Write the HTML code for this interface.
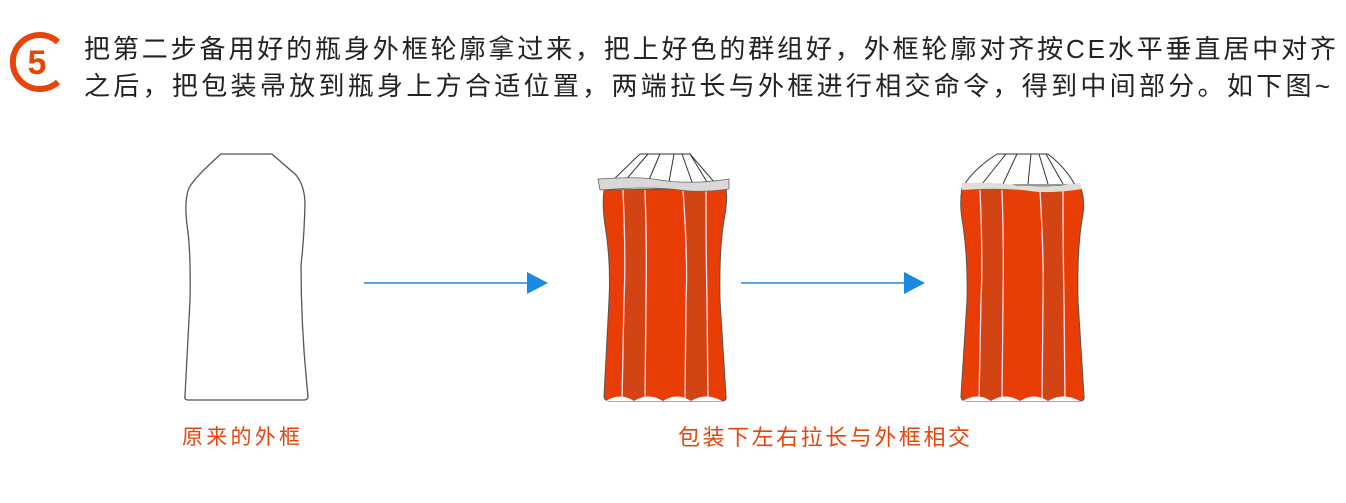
<!DOCTYPE html>
<html><head><meta charset="utf-8"><style>
html,body{margin:0;padding:0;background:#fff;width:1346px;height:503px;overflow:hidden}
svg{display:block}
text{font-family:"Liberation Sans","Noto Sans CJK SC",sans-serif}
</style></head><body>
<svg width="1346" height="503" viewBox="0 0 1346 503" xmlns="http://www.w3.org/2000/svg">
<!-- circled 5 -->
<path d="M58 42 A27 27 0 1 0 58 82" fill="none" stroke="#e8440a" stroke-width="6"/>
<text x="37" y="74" font-size="34" font-weight="bold" fill="#e8440a" text-anchor="middle">5</text>
<text x="84" y="58" font-size="26" fill="#222" textLength="1252" lengthAdjust="spacing">把第二步备用好的瓶身外框轮廓拿过来，把上好色的群组好，外框轮廓对齐按CE水平垂直居中对齐</text>
<text x="84" y="95" font-size="26" fill="#222" textLength="1246" lengthAdjust="spacing">之后，把包装帚放到瓶身上方合适位置，两端拉长与外框进行相交命令，得到中间部分。如下图~</text>

<!-- bottle 1 -->
<path d="M221 154 L272 154 L296 175 Q305 186 305 205 Q304 240 301 265 Q301 330 308 396 Q308 400 304 400 L188 400 Q184 400 185 396 L190 300 Q191 250 187 225 Q184 200 189 188 Q194 178 221 154 Z" fill="#fff" stroke="#555" stroke-width="1.3"/>
<text x="182" y="444" font-size="21" fill="#e8440a" textLength="118" lengthAdjust="spacing">原来的外框</text>

<!-- arrows -->
<line x1="364" y1="283" x2="530" y2="283" stroke="#1a8ae0" stroke-width="1.5"/>
<polygon points="527,272 548,283 527,294" fill="#1a8ae0"/>
<line x1="741" y1="283" x2="907" y2="283" stroke="#1a8ae0" stroke-width="1.5"/>
<polygon points="904,272 925,283 904,294" fill="#1a8ae0"/>

<!-- bottle 2 -->
<g>
<path d="M640 154 L690 154 L715 183 L610 183 Z" fill="#fff" stroke="#333" stroke-width="1"/>
<path d="M648 154 L624 182 M660 154 L648 182 M674 154 L669 182 M682 154 L692 182 M690 154 L707 182" stroke="#333" stroke-width="1" fill="none"/>
<path d="M604 190 Q602 205 605 225 Q611 260 609 300 L604 396 Q604 401 610 401 L722 401 Q727 401 726 396 L720 300 Q719 250 724 220 Q728 200 726 188 Z" fill="#e83e06" stroke="#555" stroke-width="1"/>
<path d="M623 190 Q626 260 624 300 L622 401 L645 401 L646 300 Q647 250 645 190 Z" fill="#d34414"/>
<path d="M683 190 Q688 260 686 300 L685 401 L708 401 L707 300 Q706 250 706 190 Z" fill="#d34414"/>
<path d="M623 190 Q626 260 624 300 L622 401 M645 190 Q647 250 646 300 L645 401 M683 190 Q688 260 686 300 L685 401 M706 190 Q706 250 707 300 L708 401" stroke="#fde" stroke-width="1.3" fill="none"/>
<path d="M606 401 Q620 392 634 401 Q648 392 663 401 Q677 392 691 401 Q706 392 722 401 Z" fill="#fff"/>
<path d="M598 179 Q640 176 660 180 Q690 185 729 179 L729 189 Q700 193 680 190 Q650 186 600 190 Z" fill="#d8d8d6" stroke="#666" stroke-width="0.8"/>
</g>

<!-- bottle 3 -->
<g>
<path d="M997 154 L1048 154 Q1066 168 1075 185 L964 185 Q975 168 997 154 Z" fill="#fff" stroke="#333" stroke-width="1"/>
<path d="M1006 154 L982 184 M1017 154 L1003 184 M1031 154 L1028 184 M1039 154 L1048 184 M1046 154 L1063 184" stroke="#333" stroke-width="1" fill="none"/>
<path d="M962 188 Q959 205 963 225 Q968 260 967 300 L961 396 Q961 401 967 401 L1080 401 Q1085 401 1084 396 L1078 300 Q1077 250 1082 220 Q1086 200 1080 186 Z" fill="#e83e06" stroke="#555" stroke-width="1"/>
<path d="M980 190 Q983 260 981 300 L979 401 L1002 401 L1003 300 Q1004 250 1002 190 Z" fill="#d34414"/>
<path d="M1040 190 Q1044 260 1043 300 L1042 401 L1065 401 L1064 300 Q1063 250 1063 190 Z" fill="#d34414"/>
<path d="M980 190 Q983 260 981 300 L979 401 M1002 190 Q1004 250 1003 300 L1002 401 M1040 190 Q1044 260 1043 300 L1042 401 M1063 190 Q1063 250 1064 300 L1065 401" stroke="#fde" stroke-width="1.3" fill="none"/>
<path d="M963 401 Q977 392 991 401 Q1005 392 1020 401 Q1034 392 1048 401 Q1063 392 1080 401 Z" fill="#fff"/>
<path d="M962 183 Q1000 182 1020 186 Q1050 188 1080 183 L1082 189 Q1050 194 1030 191 Q1000 187 962 190 Z" fill="#deded8"/>
</g>

<text x="678" y="445" font-size="22" fill="#e8440a" textLength="292" lengthAdjust="spacing">包装下左右拉长与外框相交</text>
</svg>
</body></html>
